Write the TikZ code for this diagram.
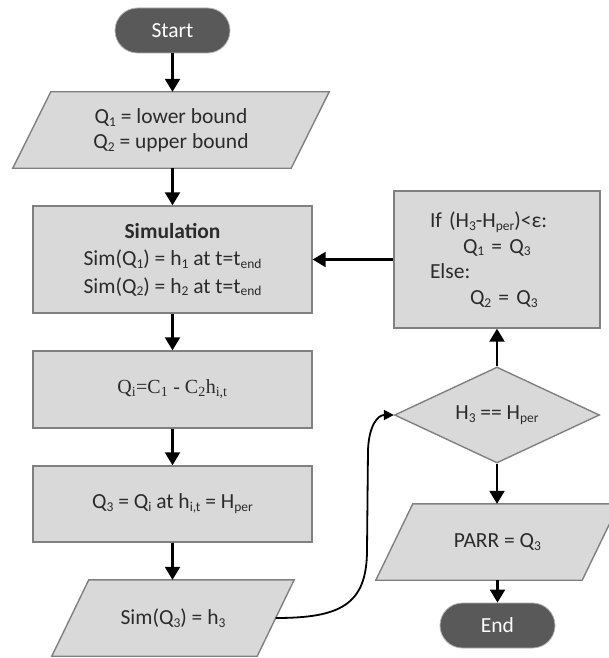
\documentclass[tikz,border=0pt]{standalone}
\usepackage{fontspec}
\setmainfont{Carlito}
\newfontfamily\serifQ{Liberation Serif}
\usetikzlibrary{arrows.meta,shapes.geometric,backgrounds,calc}
\definecolor{boxfill}{HTML}{D9D9D9}
\definecolor{boxline}{HTML}{808080}
\definecolor{pillfill}{HTML}{595959}
\definecolor{txt}{HTML}{2B2B2B}
\newcommand\subx[1]{\raisebox{-0.13em}{\fontsize{13.5}{13.5}\selectfont #1}}
\newcommand\paraoutline[2]{\draw[paraline] (#1.south west) -- ($(#1.north west)+(#2,0)$) -- (#1.north east) -- ($(#1.south east)-(#2,0)$) -- cycle;}
\begin{document}
\begin{tikzpicture}[x=1pt,y=-1pt,
  font=\fontsize{21.5}{25}\selectfont, text=txt,
  base/.style={inner sep=0pt, align=center},
  procbox/.style={base, draw=boxline, fill=boxfill, line width=1.4pt, minimum width=279pt},
  iobox/.style={base, minimum width=242pt, minimum height=76pt},
  pill/.style={base, rounded corners=22.5pt, fill=pillfill, draw=gray!60, line width=0.8pt, minimum width=115pt, minimum height=45pt, text=white},
  decision/.style={base, diamond, aspect=2.14, draw=boxline, fill=boxfill, line width=1.4pt, minimum width=205pt, minimum height=96pt},
  paraline/.style={draw=boxline, fill=boxfill, line width=1.4pt, line join=miter},
  flow/.style={-{Triangle[length=13pt,width=15pt]}, line width=2.2pt, black},
  curvearrow/.style={-{Triangle[length=10pt,width=10pt]}, line width=1.8pt, black}
]
\useasboundingbox (0,0) rectangle (608,658);

\node[pill] (start) at (172.5,30.5) {Start};
\node[iobox, minimum width=316pt] (p1) at (171,130) {Q\subx{1} = lower bound\\Q\subx{2} = upper bound};
\node[procbox, minimum height=107pt, font=\fontsize{21.5}{27.5}\selectfont] (sim) at (172.5,259.5) {\textbf{Simulation}\\Sim(Q\subx{1}) = h\subx{1} at t=t\subx{end}\\Sim(Q\subx{2}) = h\subx{2} at t=t\subx{end}};
\node[procbox, minimum height=77pt, font=\serifQ\fontsize{20}{24}\selectfont] (qi) at (172.5,389.5) {Q\textsubscript{i}=C\textsubscript{1} - C\textsubscript{2}h\textsubscript{i,t}};
\node[procbox, minimum height=76pt] (q3) at (172.5,504) {Q\subx{3} = Q\subx{i} at h\subx{i,t} = H\subx{per}};
\node[iobox] (simq3) at (173,618) {Sim(Q\subx{3}) = h\subx{3}};

\node[procbox, minimum width=206pt, minimum height=137pt, text width=134pt, align=left, font=\fontsize{21.5}{25.7}\selectfont] (ifbox) at (497,259.5) {If (H\subx{3}-H\subx{per})<ε:\\\hspace*{33pt}Q\subx{1} = Q\subx{3}\\Else:\\\hspace*{40pt}Q\subx{2} = Q\subx{3}};
\node[decision] (dec) at (497,415) {H\subx{3} == H\subx{per}};
\node[iobox, minimum width=243pt] (parr) at (497.5,542) {PARR = Q\subx{3}};
\node[pill] (end) at (497.5,625.5) {End};

\begin{pgfonlayer}{background}
  \fill[white] (0,0) rectangle (608,658);
  \paraoutline{p1}{38}
  \paraoutline{simq3}{37}
  \paraoutline{parr}{37}
\end{pgfonlayer}

\draw[flow] (start.south) -- (start.south |- p1.north);
\draw[flow] (start.south |- p1.south) -- (start.south |- sim.north);
\draw[flow] (sim.south) -- (qi.north);
\draw[flow] (qi.south) -- (q3.north);
\draw[flow] (q3.south) -- (q3.south |- simq3.north);
\draw[flow] (ifbox.west) -- (ifbox.west -| sim.east);
\draw[flow] (dec.north) -- (ifbox.south);
\draw[flow] (dec.south) -- (dec.south |- parr.north);
\draw[flow] (parr.south) -- (end.north);

\coordinate (s3r) at ($(simq3.east)+(-18.5,0)$);
\draw[curvearrow] (s3r) .. controls (340,618) and (367,605) .. (367,550) -- (368,450) .. controls (369,425) and (378,415) .. (dec.west);
\end{tikzpicture}
\end{document}
